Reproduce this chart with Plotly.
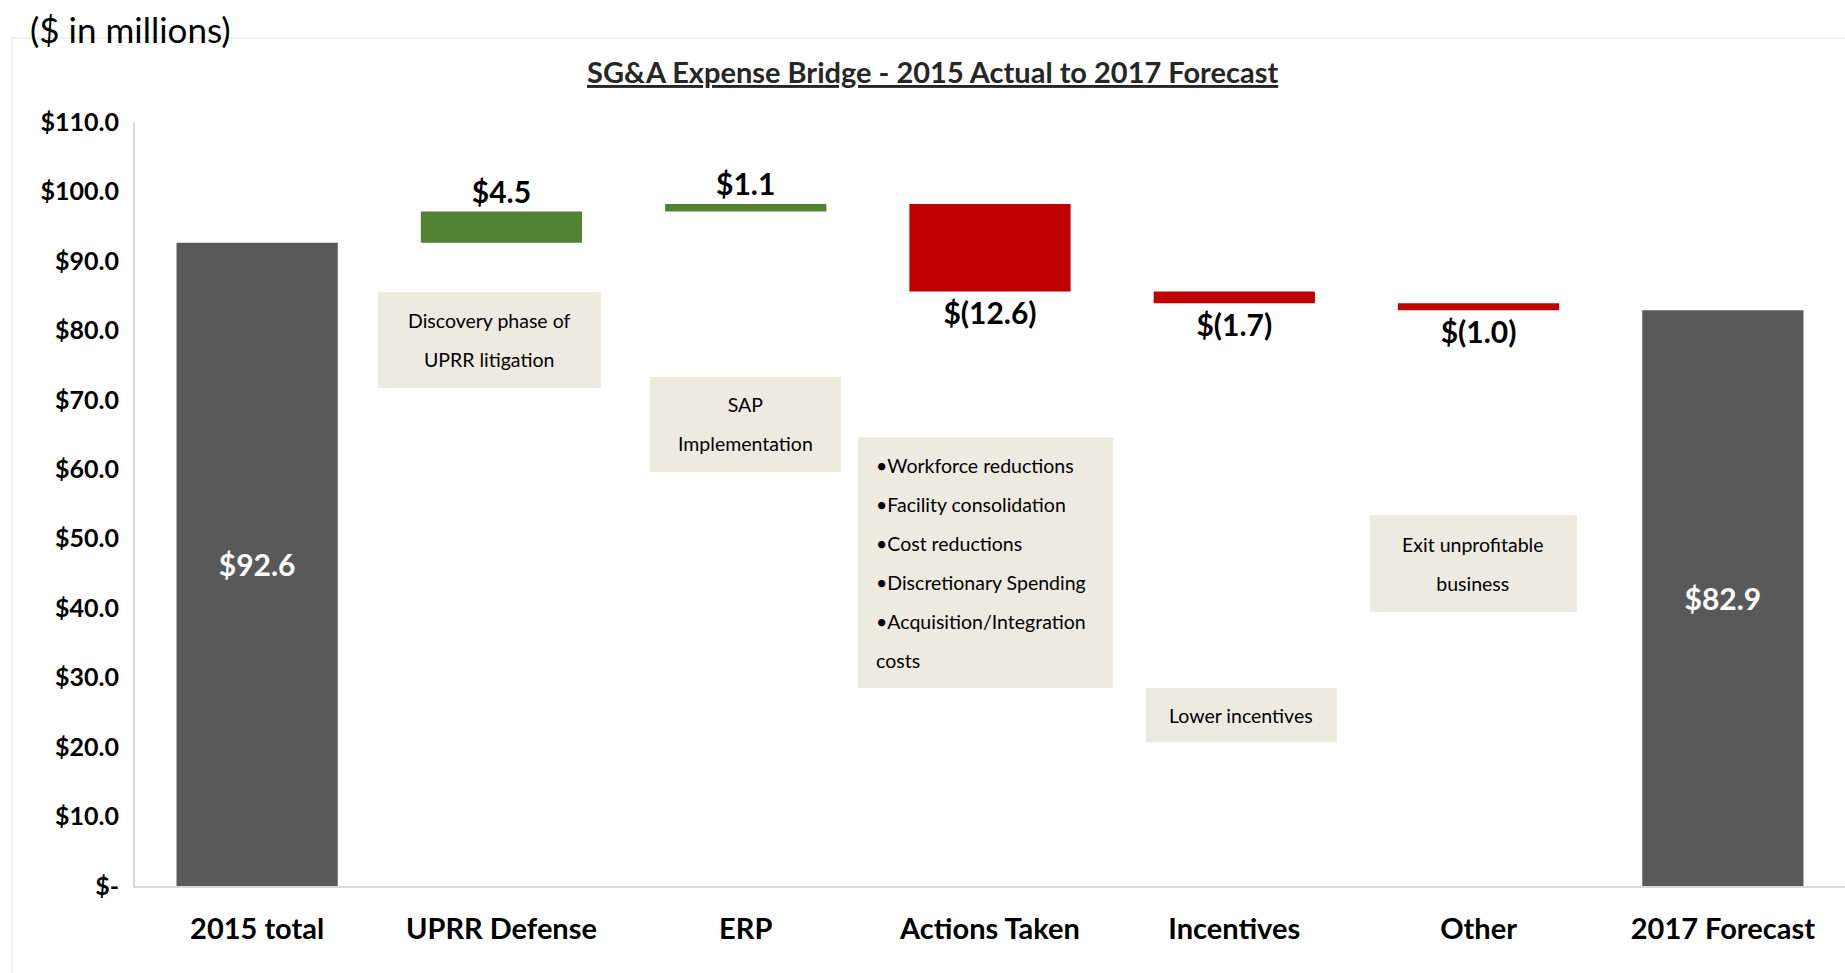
import plotly.graph_objects as go

# ---- data ----
categories = ["2015 total", "UPRR Defense", "ERP", "Actions Taken", "Incentives", "Other", "2017 Forecast"]
measures = ["absolute", "relative", "relative", "relative", "relative", "relative", "total"]
values = [92.6, 4.5, 1.1, -12.6, -1.7, -1.0, 0]
value_labels = ["$92.6", "$4.5", "$1.1", "$(12.6)", "$(1.7)", "$(1.0)", "$82.9"]
label_positions = ["inside", "outside", "outside", "outside", "outside", "outside", "inside"]

y_tick_vals = [0, 10, 20, 30, 40, 50, 60, 70, 80, 90, 100, 110]
y_tick_text = ["$-", "$10.0", "$20.0", "$30.0", "$40.0", "$50.0", "$60.0", "$70.0",
               "$80.0", "$90.0", "$100.0", "$110.0"]

note_lines = [
    ["Discovery phase of", "UPRR litigation"],
    ["SAP", "Implementation"],
    ["•Workforce reductions", "•Facility consolidation", "•Cost reductions",
     "•Discretionary Spending", "•Acquisition/Integration", "costs"],
    ["Lower incentives"],
    ["Exit unprofitable", "business"],
]
# box extents (category-index units, y units) and text alignment
note_boxes = [
    (0.495, 1.408, 71.7, 85.5, "center"),
    (1.608, 2.390, 59.6, 73.3, "center"),
    (2.460, 3.503, 28.5, 64.6, "left"),
    (3.639, 4.420, 20.7, 28.5, "center"),
    (4.555, 5.403, 39.4, 53.4, "center"),
]

FONT = "Lato, 'Open Sans', Arial, sans-serif"
GREEN = "#548235"
RED = "#C00000"
GRAY = "#595959"
BOX = "#EDEBE0"

fig = go.Figure()
fig.add_trace(go.Waterfall(
    x=categories,
    measure=measures,
    y=values,
    text=value_labels,
    textposition=label_positions,
    textangle=0,
    insidetextanchor="middle",
    insidetextfont=dict(family=FONT, size=30, color="white"),
    outsidetextfont=dict(family=FONT, size=30, color="black"),
    texttemplate="<b>%{text}</b>",
    increasing=dict(marker=dict(color=GREEN)),
    decreasing=dict(marker=dict(color=RED)),
    totals=dict(marker=dict(color=GRAY)),
    connector=dict(visible=False),
    cliponaxis=False,
    hoverinfo="x+y",
    showlegend=False,
))

shapes = []
annotations = []
for lines, (x0, x1, y0, y1, align) in zip(note_lines, note_boxes):
    shapes.append(dict(type="rect", xref="x", yref="y", x0=x0, x1=x1, y0=y0, y1=y1,
                       fillcolor=BOX, line=dict(width=0), layer="below"))
    txt = "<br>".join(f"<span style='font-size:19.5px'>{l}</span>" for l in lines)
    if align == "left":
        annotations.append(dict(xref="x", yref="y", x=x0 + 0.065, y=(y0 + y1) / 2,
                                xanchor="left", yanchor="middle", align="left",
                                text=txt, showarrow=False,
                                font=dict(family=FONT, size=30, color="black")))
    else:
        annotations.append(dict(xref="x", yref="y", x=(x0 + x1) / 2, y=(y0 + y1) / 2,
                                xanchor="center", yanchor="middle", align="center",
                                text=txt, showarrow=False,
                                font=dict(family=FONT, size=30, color="black")))

annotations.append(dict(xref="paper", yref="paper", x=-0.0625, y=1.122,
                        xanchor="left", yanchor="middle", showarrow=False,
                        text="($ in millions)",
                        font=dict(family=FONT, size=35, color="black")))
annotations.append(dict(xref="paper", yref="paper", x=0.4665, y=1.066,
                        xanchor="center", yanchor="middle", showarrow=False,
                        text="<b><span style='text-decoration:underline'>SG&A Expense Bridge - 2015 Actual to 2017 Forecast</span></b>",
                        font=dict(family=FONT, size=29, color="#262626")))

# faint chart-area frame
shapes.append(dict(type="path", xref="paper", yref="paper",
                   path="M -0.072,-0.12 L -0.072,1.11 L 1.01,1.11",
                   line=dict(color="#EEEEEE", width=1.5), layer="below"))

fig.update_layout(
    width=1845, height=973,
    margin=dict(l=135, r=0, t=122, b=87),
    paper_bgcolor="white", plot_bgcolor="white",
    waterfallgap=0.34,
    shapes=shapes,
    annotations=annotations,
    font=dict(family=FONT),
    xaxis=dict(
        showline=True, linecolor="#D9D9D9", linewidth=2,
        showgrid=False, zeroline=False,
        tickfont=dict(family=FONT, size=29, color="black"),
        ticklabelstandoff=16,
        tickprefix="<b>", ticksuffix="</b>",
    ),
    yaxis=dict(
        range=[0, 110],
        tickvals=y_tick_vals, ticktext=[f"<b>{t}</b>" for t in y_tick_text],
        showline=True, linecolor="#D9D9D9", linewidth=2,
        showgrid=False, zeroline=False,
        tickfont=dict(family=FONT, size=25, color="black"),
        ticklabelstandoff=9,
    ),
)

fig.write_html("out.html", config={"displayModeBar": False},
               post_script="document.body.style.margin='0';document.body.style.overflow='hidden';")
